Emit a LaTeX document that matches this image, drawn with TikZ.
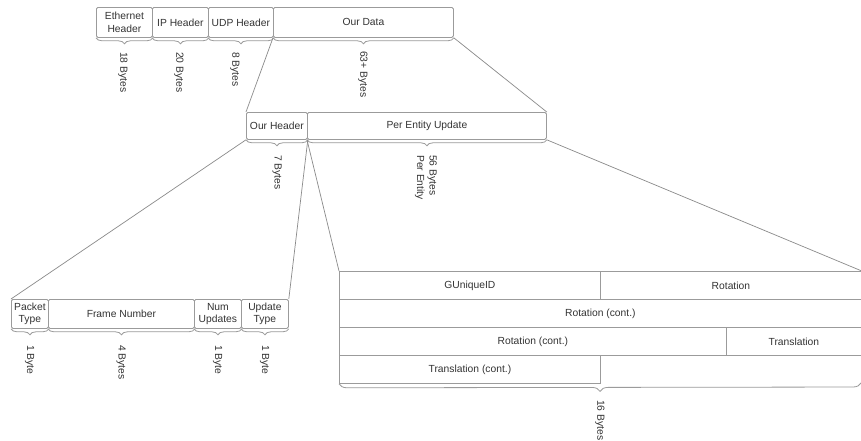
\documentclass[tikz,border=0pt]{standalone}
\usepackage{fontspec}
\setmainfont{Liberation Sans}
\usetikzlibrary{decorations.pathreplacing}
\definecolor{edge}{HTML}{9B9B9B}
\definecolor{ink}{HTML}{333333}
\definecolor{wire}{HTML}{8A8A8A}
\begin{document}
\begin{tikzpicture}[x=1pt,y=-1pt,
  txt/.style={text=ink, font=\fontsize{10.3}{12.5}\selectfont},
  cell/.style 2 args={txt, draw=edge, line width=0.8pt, rounded corners=1.5pt,
    anchor=north west, inner sep=1pt, align=center,
    minimum width=#1pt, minimum height=#2pt},
  plain/.style 2 args={txt, draw=edge, line width=0.8pt,
    anchor=north west, inner sep=1pt, align=center,
    minimum width=#1pt, minimum height=#2pt},
  curly/.style={draw=edge, line width=0.8pt, decorate,
    decoration={brace, mirror, amplitude=#1}},
  curly/.default=6pt,
  size/.style={txt, rotate=-90, anchor=west, inner sep=0pt, align=left},
  wirel/.style={draw=wire, line width=0.7pt}]
\useasboundingbox (0,0) rectangle (861,440);
\clip (0,0) rectangle (861,440);
\fill[white] (0,0) rectangle (861,440);

% packet as a whole
\node[cell={56}{30}] (eth) at (96,7) {Ethernet\\Header};
\node[cell={56}{30}] (ip)  at (152,7) {IP Header};
\node[cell={65}{30}] (udp) at (208,7) {UDP Header};
\node[cell={180}{30}] (data) at (273,7) {Our Data};
\foreach \c in {eth,ip,udp,data} \draw[curly] (\c.south west) -- (\c.south east);
\node[size] (szeth)  at (123,52) {18 Bytes};
\node[size] (szip)   at (179,52) {20 Bytes};
\node[size] (szudp)  at (235,52) {8 Bytes};
\node[size] (szdata) at (363,51) {63+ Bytes};

% our data
\node[cell={61}{27}] (ohdr) at (246,112) {Our Header};
\node[cell={239}{27}] (pupd) at (307,112) {Per Entity Update};
\draw[curly] (ohdr.south west) -- (ohdr.south east);
\draw[curly] (pupd.south west) -- (pupd.south east);
\node[size] (szohdr) at (277,155) {7 Bytes};
\node[size] (szpupd) at (426,155) {56 Bytes\\Per Entity};
\draw[wirel] (data.south west) -- (ohdr.north west);
\draw[wirel] (data.south east) -- (pupd.north east);

% our header
\node[cell={37}{29}] (ptype) at (11,299) {Packet\\Type};
\node[cell={146}{29}] (frame) at (48,299) {Frame Number};
\node[cell={47}{29}] (nupd) at (194,299) {Num\\Updates};
\node[cell={47}{29}] (utype) at (241,299) {Update\\Type};
\foreach \c in {ptype,frame,nupd,utype} \draw[curly] (\c.south west) -- (\c.south east);
\node[size] (szptype) at (29.5,345) {1 Byte};
\node[size] (szframe) at (121,345) {4 Bytes};
\node[size] (sznupd)  at (217.5,345) {1 Byte};
\node[size] (szutype) at (264.5,345) {1 Byte};
\draw[wirel] (ohdr.south west) -- (ptype.north west);
\draw[wirel] (ohdr.south east) -- (utype.north east);

% per entity update
\node[plain={261}{28}] (guid)  at (339,271) {GUniqueID};
\node[plain={261}{28}] (rot)   at (600,271) {Rotation};
\node[plain={522}{28}] (rotc)  at (339,299) {Rotation (cont.)};
\node[plain={387}{28}] (rotd)  at (339,327) {Rotation (cont.)};
\node[plain={135}{28}] (trans) at (726,327) {Translation};
\node[plain={261}{28}] (trnc)  at (339,355) {Translation (cont.)};
\coordinate (tblend) at (861,383);
\draw[curly=8pt] (trnc.south west) -- (tblend);
\node[size] (szent) at (600,400) {16 Bytes};
\draw[wirel] (pupd.south west) -- (guid.north west);
\draw[wirel] (pupd.south east) -- (rot.north east);
\end{tikzpicture}
\end{document}
